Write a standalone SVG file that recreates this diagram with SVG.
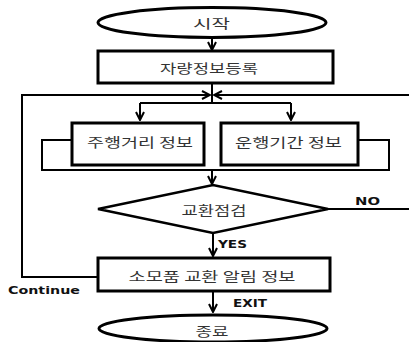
<svg xmlns="http://www.w3.org/2000/svg" width="409" height="342" viewBox="0 0 409 342">
<defs>
<marker id="arr" viewBox="0 0 10 10" refX="9" refY="5" markerWidth="10" markerHeight="10" markerUnits="userSpaceOnUse" orient="auto">
<polyline points="1,1 9,5 1,9" fill="none" stroke="#000" stroke-width="2"/>
</marker>
<style>
.node{fill:#fff;stroke:#000;stroke-width:3}
.dia{fill:#fff;stroke:#000;stroke-width:2.5}
.con{fill:none;stroke:#000;stroke-width:2}
.kr{font-family:"Noto Sans CJK KR","Noto Sans",sans-serif;font-size:13px;fill:#333;text-anchor:middle;dominant-baseline:central}
.lb{font-family:"DejaVu Sans","Liberation Sans",sans-serif;font-weight:bold;font-size:11px;fill:#111;dominant-baseline:central}
</style>
</defs>
<g id="connectors">
<path class="con" d="M212,38 V50" marker-end="url(#arr)"/>
<path class="con" d="M212,84 V103"/>
<path class="con" d="M140,103 H291"/>
<path class="con" d="M140,103 V120" marker-end="url(#arr)"/>
<path class="con" d="M291,103 V120" marker-end="url(#arr)"/>
<path class="con" d="M72,140 H42 V170 H389 V140 H358"/>
<path class="con" d="M212,170 V184" marker-end="url(#arr)"/>
<path class="con" d="M213,233 V256" marker-end="url(#arr)"/>
<path class="con" d="M98,277 H22 V95 H210" marker-end="url(#arr)"/>
<path class="con" d="M328,209 H414 V95 H214" marker-end="url(#arr)"/>
<path class="con" d="M213,292 V312" marker-end="url(#arr)"/>
<text class="lb" x="355" y="201" textLength="25" lengthAdjust="spacingAndGlyphs">NO</text>
<text class="lb" x="218" y="244" textLength="29" lengthAdjust="spacingAndGlyphs">YES</text>
<text class="lb" x="8" y="290" textLength="72" lengthAdjust="spacingAndGlyphs">Continue</text>
<text class="lb" x="233" y="303" textLength="34" lengthAdjust="spacingAndGlyphs">EXIT</text>
</g>
<g id="start">
<ellipse class="node" cx="212" cy="22.5" rx="114" ry="15"/>
<text class="kr" x="211.5" y="22" textLength="37" lengthAdjust="spacingAndGlyphs">시작</text>
</g>
<g id="register">
<rect class="node" x="98" y="51" width="235" height="32"/>
<text class="kr" x="209" y="67" textLength="98" lengthAdjust="spacingAndGlyphs">자량정보등록</text>
</g>
<g id="mileage">
<rect class="node" x="72" y="123" width="132" height="42"/>
<text class="kr" x="140" y="141" textLength="106" lengthAdjust="spacingAndGlyphs">주행거리 정보</text>
</g>
<g id="period">
<rect class="node" x="221" y="123" width="137" height="42"/>
<text class="kr" x="288.5" y="141" textLength="107" lengthAdjust="spacingAndGlyphs">운행기간 정보</text>
</g>
<g id="check">
<polygon class="dia" points="98,209 213,185 328,209 213,233"/>
<text class="kr" x="214" y="209" textLength="65" lengthAdjust="spacingAndGlyphs">교환점검</text>
</g>
<g id="notify">
<rect class="node" x="98" y="258" width="232" height="33"/>
<text class="kr" x="212" y="275" textLength="167" lengthAdjust="spacingAndGlyphs">소모품 교환 알림 정보</text>
</g>
<g id="end">
<ellipse class="node" cx="213" cy="328.5" rx="114" ry="13.5"/>
<text class="kr" x="212" y="330" textLength="33" lengthAdjust="spacingAndGlyphs">종료</text>
</g>
</svg>
